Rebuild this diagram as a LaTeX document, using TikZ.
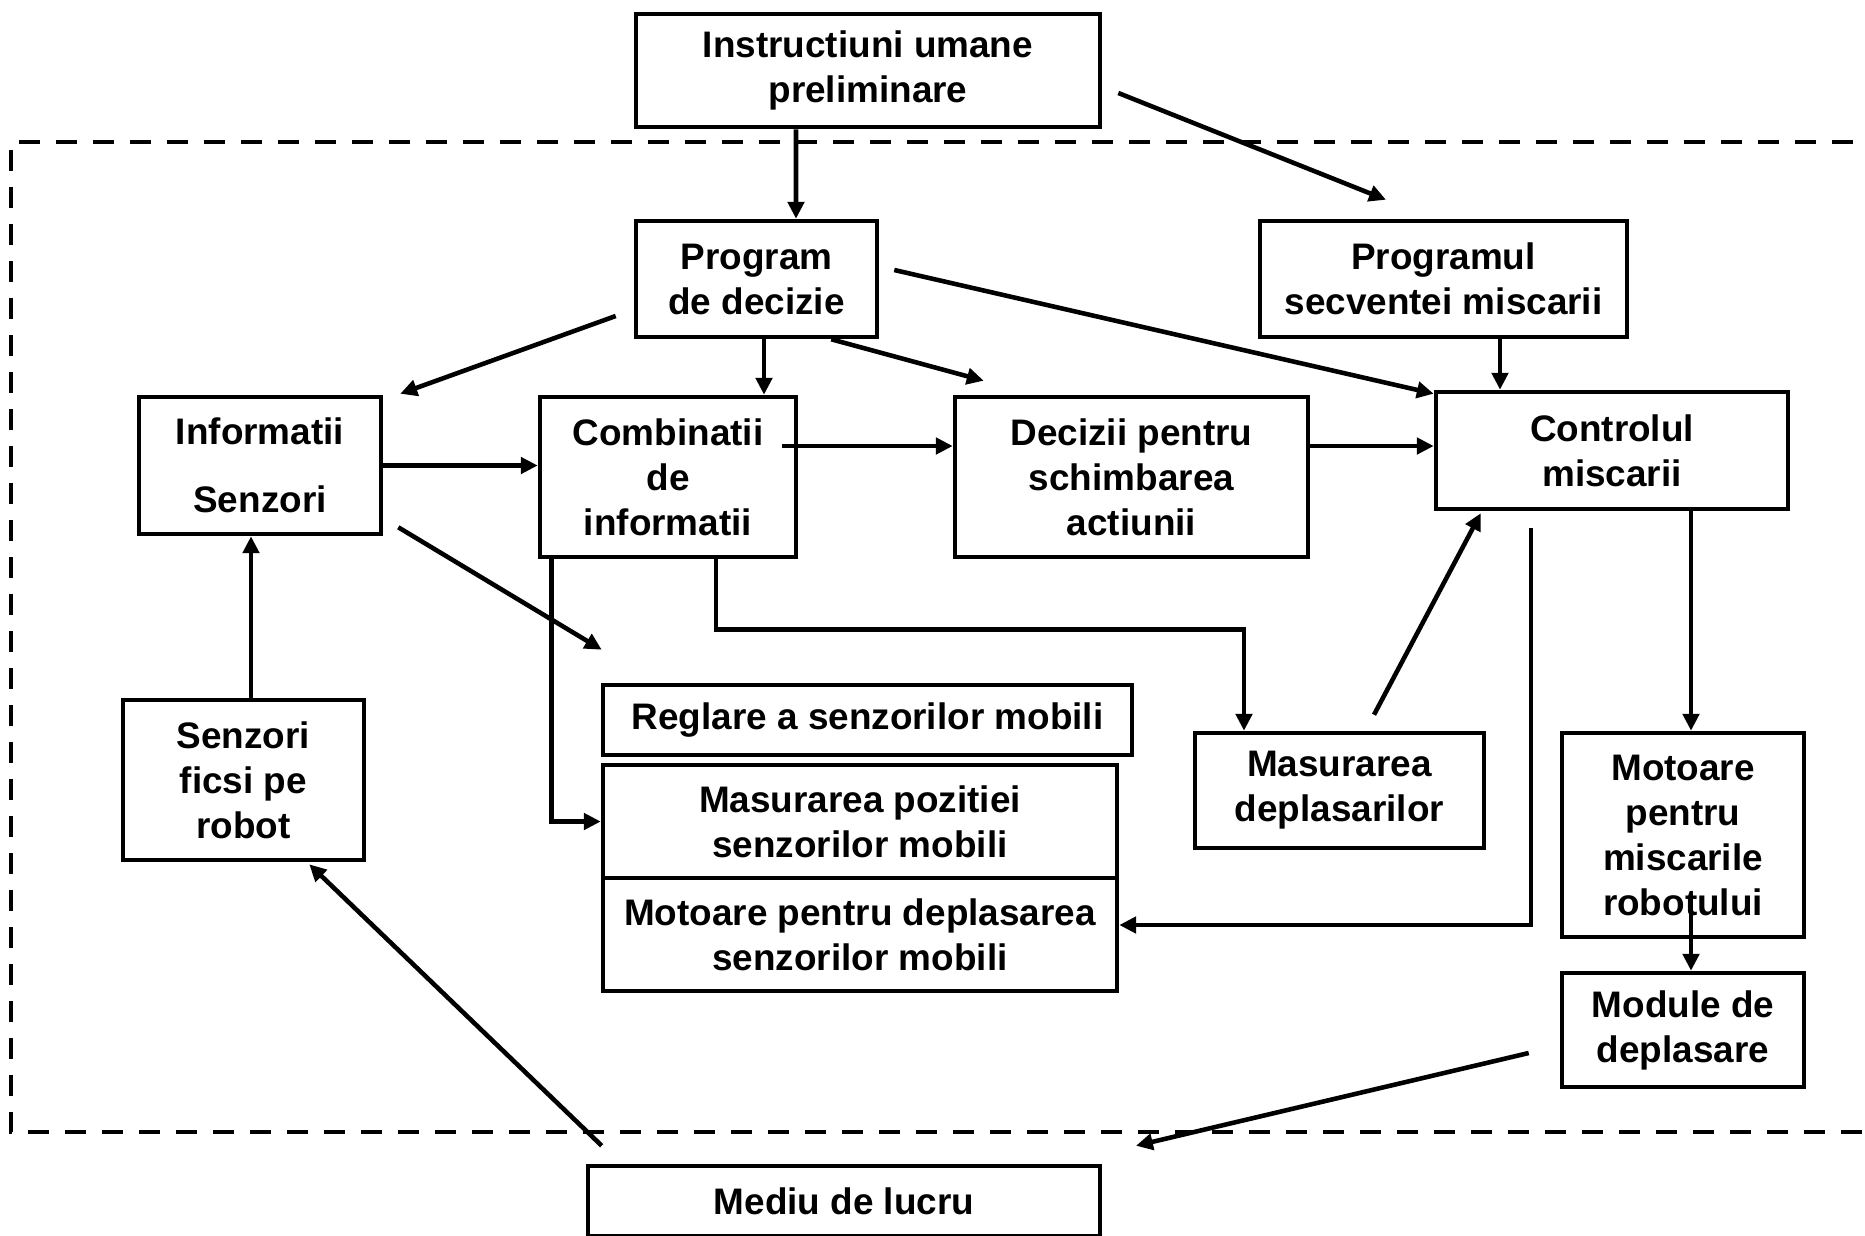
\documentclass[tikz,border=0pt]{standalone}
\usepackage{fontspec}
\setmainfont{Liberation Sans}
\usetikzlibrary{arrows.meta,calc}
\tikzset{
  box/.style={draw,line width=1.3pt,align=center,inner sep=2pt,
              font=\fontsize{10.5}{12.8}\selectfont\bfseries},
  arr/.style={-{Triangle[length=4.8pt,width=4.6pt]},line width=1.3pt},
  frame/.style={line width=1.3pt,dash pattern=on 2.1mm off 1.6mm},
}

\begin{document}
\begin{tikzpicture}
    \useasboundingbox (0,0) rectangle (18.65,-12.35);
    \draw[frame] (18.9,-1.42) -| (0.11,-11.32) -- (18.9,-11.32);

    \node[box,minimum width=46.4mm,minimum height=11.3mm] at (8.68,-0.705) (instr)
        {Instructiuni umane\\ preliminare};
    \node[box,minimum width=24.1mm,minimum height=11.6mm] at (7.565,-2.79) (prog)
        {Program\\ de decizie};
    \node[box,minimum width=36.7mm,minimum height=11.6mm] at (14.435,-2.79) (secv)
        {Programul\\ secventei miscarii};
    \node[box,minimum width=24.2mm,minimum height=13.7mm] at (2.60,-4.655) (info)
        {Informatii\\[6.5pt] Senzori};
    \node[box,minimum width=25.6mm,minimum height=16mm] at (6.68,-4.77) (comb)
        {Combinatii\\ de\\ informatii};
    \node[box,minimum width=35.3mm,minimum height=16mm] at (11.315,-4.77) (dec)
        {Decizii pentru\\ schimbarea\\ actiunii};
    \node[box,minimum width=35.2mm,minimum height=11.7mm] at (16.12,-4.505) (ctrl)
        {Controlul\\ miscarii};
    \node[box,minimum width=52.9mm,minimum height=7mm] at (8.675,-7.20) (regl)
        {Reglare a senzorilor mobili};
    \node[box,minimum width=51.4mm,minimum height=11.3mm] at (8.60,-8.215) (mpoz)
        {Masurarea pozitiei\\ senzorilor mobili};
    \node[box,minimum width=51.4mm,minimum height=11.3mm] at (8.60,-9.345) (mot)
        {Motoare pentru deplasarea\\ senzorilor mobili};
    \node[box,minimum width=28.9mm,minimum height=11.5mm] at (13.395,-7.905) (mdepl)
        {Masurarea\\ deplasarilor};
    \node[box,minimum width=24.1mm,minimum height=16mm] at (2.435,-7.80) (sfix)
        {Senzori\\ ficsi pe\\ robot};
    \node[box,minimum width=24.2mm,minimum height=20.4mm] at (16.83,-8.35) (motr)
        {Motoare\\ pentru\\ miscarile\\ robotului};
    \node[box,minimum width=24.2mm,minimum height=11.4mm] at (16.83,-10.30) (modul)
        {Module de\\ deplasare};
    \node[box,minimum width=51.2mm,minimum height=7mm] at (8.44,-12.01) (mediu)
        {Mediu de lucru};

    \coordinate (p1) at ([xshift=0.75mm]prog.south);
    \coordinate (s1) at ([xshift=5.65mm]secv.south);
    \coordinate (d1) at ($(dec.east)+(0,0.31)$);
    \coordinate (k1) at ([xshift=1.4mm]comb.south west);
    \coordinate (k2) at ([xshift=4.8mm]comb.south);
    \coordinate (k3) at ($(ctrl.south)+(-0.81,-0.17)$);
    \coordinate (k4) at ([xshift=7.9mm]ctrl.south);
    \coordinate (k5) at ([xshift=0.75mm]sfix.north);

    \draw[arr] ([xshift=-7.2mm]instr.south) -- ([xshift=3.95mm]prog.north);
    \draw[arr] ($(instr.east)+(0.16,-0.225)$) -- ($(secv.north)+(-0.575,0.19)$);
    \draw[arr] ($(prog.west)+(-0.18,-0.37)$) -- ($(info.north east)+(0.17,0.01)$);
    \draw[arr] (p1) -- (p1 |- comb.north);
    \draw[arr] ($(prog.south east)+(-0.48,0)$) -- ($(dec.north west)+(0.31,0.14)$);
    \draw[arr] ($(prog.east)+(0.15,0.09)$) -- ($(ctrl.north west)+(0,-0.04)$);
    \draw[arr] (s1) -- (s1 |- ctrl.north);
    \draw[arr] (info.east) -- (info.east -| comb.west);
    \draw[arr] ($(comb.east)+(-0.16,0.31)$) -- ($(dec.west)+(0,0.31)$);
    \draw[arr] (d1) -- (d1 -| ctrl.west);
    \draw[arr] ($(info.south east)+(0.15,0.09)$) -- ($(regl.north west)+(0.01,0.33)$);
    \draw[arr] (k1) |- (mpoz.west);
    \draw[arr] (k2) -- ++(0,-0.7) -| ([xshift=-9.55mm]mdepl.north);
    \draw[arr] ($(mdepl.north)+(0.345,0.16)$) -- ($(ctrl.south west)+(0.47,-0.02)$);
    \draw[arr] (k3) |- ([yshift=0.95mm]mot.east);
    \draw[arr] (k4) -- (k4 |- motr.north);
    \draw[arr] ($(motr.south)+(0.08,0.45)$) -- ($(modul.north)+(0.08,0)$);
    \draw[arr] ($(modul.west)+(-0.31,-0.23)$) -- ($(mediu.north)+(2.92,0.18)$);
    \draw[arr] ($(mediu.north west)+(0.16,0.18)$) -- ($(sfix.south east)+(-0.57,-0.02)$);
    \draw[arr] (k5) -- (k5 |- info.south);
\end{tikzpicture}
\end{document}
